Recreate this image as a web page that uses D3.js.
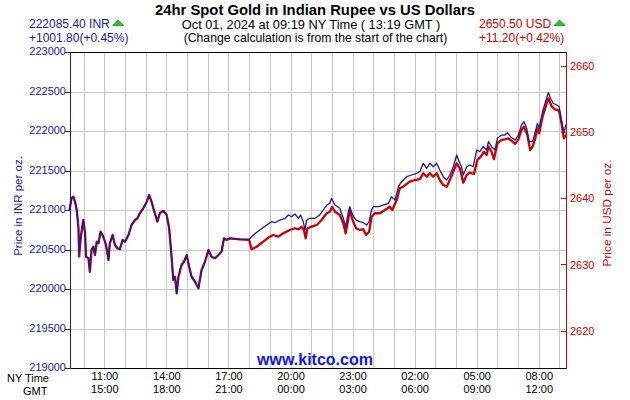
<!DOCTYPE html>
<html><head><meta charset="utf-8">
<script src="https://cdn.jsdelivr.net/npm/d3@7"></script>
<style>
body{margin:0;background:#fff;}
svg{display:block;font-family:"Liberation Sans",Arial,Helvetica,sans-serif;}
</style>
</head><body>
<svg id="chart" width="630" height="400"></svg>
<script>
// ---------- data ----------
const chartTitle = "24hr Spot Gold in Indian Rupee vs US Dollars";
const subTitle = "Oct 01, 2024 at 09:19 NY Time ( 13:19 GMT )";
const noteText = "(Change calculation is from the start of the chart)";
const inrHeader = ["222085.40 INR", "+1001.80(+0.45%)"];
const usdHeader = ["2650.50 USD", "+11.20(+0.42%)"];
const inrAxisTitle = "Price in INR per oz.";
const usdAxisTitle = "Price in USD per oz.";
const siteText = "www.kitco.com";
const rowLabels = ["NY Time", "GMT"];
const startNY = "2024-09-30 09:19";        // chart start, NY time
const spanHours = 24;
const inrTicks = [219000, 219500, 220000, 220500, 221000, 221500, 222000, 222500, 223000];
const usdTicks = [2620, 2630, 2640, 2650, 2660];
const usdRange = [2614.34, 2662.15];
const nyTickLabels = ["11:00", "14:00", "17:00", "20:00", "23:00", "02:00", "05:00", "08:00"];
const gmtTickLabels = ["15:00", "18:00", "21:00", "00:00", "03:00", "06:00", "09:00", "12:00"];

// minutes after chart start
const inrMinutes = [0,6,11,16,21,26,28,33,40,45,48,55,59,64,69,74,79,84,90,98,106,113,117,125,132,139,146,154,161,171,180,190,197,204,214,224,231,238,246,255,262,272,282,289,296,301,306,311,316,325,332,340,347,354,364,374,383,393,403,412,422,432,441,448,456,465,494,
  521,533,552,572,586,596,610,625,635,644,654,664,670,678,683,688,697,712,726,736,746,755,760,770,784,794,801,809,813,821,831,842,852,862,869,876,881,896,910,925,934,944,954,963,978,992,1007,1016,
  1026,1036,1045,1055,1065,1074,1084,1094,1103,1113,1123,1130,1137,1142,1152,1161,1171,1181,1190,1200,1210,1215,1224,1234,1241,1253,1263,1270,1279,1292,1302,1311,1318,1326,1333,1343,1350,1357,1362,1372,1382,1389,1395,1403,1413,1420,1427,1434,1440];
const inrValues = [221000,221148,221168,221105,221000,220772,220456,220662,220873,220709,220409,220389,220241,220494,220536,220430,220599,220579,220725,220662,220557,220367,220579,220684,220557,220515,220503,220620,220599,220684,220810,220873,220895,220958,221022,221105,221190,221105,220979,220852,220958,220991,220937,220768,220409,220114,220156,219946,220156,220304,220346,220430,220282,220156,220092,220009,220241,220346,220494,220409,220389,220430,220472,220642,220620,220642,220629,
  220629,220684,220747,220810,220852,220839,220873,220895,220937,220915,220949,220895,220937,220852,220747,220873,220895,220895,220937,221000,221063,221085,221148,221063,221022,220895,220789,220979,221042,220937,220873,220852,220839,220810,220852,221000,221042,221042,221063,221085,221168,221127,221295,221358,221422,221443,221465,221485,
  221591,221528,221591,221548,221591,221506,221422,221380,221443,221548,221696,221611,221548,221443,221548,221570,221548,221760,221738,221801,221760,221865,221801,221760,221908,221949,221949,221979,221928,221886,221949,222076,222118,222034,221865,221865,221971,222097,222034,222244,222392,222485,222414,222351,222329,222308,222139,221979,222085];

const usdMinutes = [0,6,11,16,21,26,28,33,40,45,48,55,59,64,69,74,79,84,90,98,106,113,117,125,132,139,146,154,161,171,180,190,197,204,214,224,231,238,246,255,262,272,282,289,296,301,306,311,316,325,332,340,347,354,364,374,383,393,403,412,422,432,441,448,456,465,494,
  521,528,543,562,581,591,606,620,639,654,664,673,680,685,690,702,717,731,746,755,762,770,784,794,801,809,813,821,831,842,852,860,869,876,886,900,915,929,936,949,958,968,987,1002,1016,
  1026,1036,1045,1055,1065,1074,1084,1094,1103,1113,1123,1132,1142,1152,1161,1173,1183,1193,1202,1210,1215,1224,1231,1241,1253,1263,1272,1282,1292,1302,1311,1318,1328,1336,1343,1350,1357,1362,1372,1384,1389,1399,1408,1420,1427,1434,1440];
const usdValues = [2638.25,2640.02,2640.26,2639.50,2638.25,2635.52,2631.2,2634.21,2636.73,2634.77,2631.18,2630.94,2628.9,2632.19,2632.69,2631.44,2633.45,2633.21,2634.96,2634.21,2632.95,2630.68,2633.21,2634.46,2632.95,2632.45,2632.30,2633.71,2633.45,2634.46,2635.98,2636.73,2636.99,2637.75,2638.50,2639.50,2640.51,2639.50,2637.99,2636.48,2637.75,2638.14,2637.49,2635.48,2631.18,2627.66,2628.15,2625.64,2628.15,2629.92,2630.42,2631.44,2629.67,2628.15,2627.40,2626.40,2629.17,2630.42,2632.19,2631.18,2630.94,2631.44,2631.94,2633.96,2633.71,2633.96,2633.81,
  2633.71,2632.30,2632.69,2633.45,2634.21,2634.46,2634.21,2634.72,2635.22,2635.48,2635.33,2635.72,2635.22,2633.96,2635.48,2635.72,2635.98,2636.73,2637.75,2637.99,2638.74,2637.99,2637.49,2636.23,2634.72,2636.99,2638.25,2636.73,2635.48,2635.22,2635.33,2634.46,2634.96,2637.23,2637.75,2637.75,2638.25,2638.74,2638.25,2639.76,2641.53,2641.77,2642.53,2642.78,2642.93,
  2643.80,2643.28,2643.80,2643.28,2643.80,2642.78,2642.03,2641.77,2642.78,2644.04,2645.31,2644.55,2642.38,2643.54,2643.89,2643.69,2645.81,2646.31,2647.07,2646.57,2647.82,2647.07,2645.92,2648.34,2648.84,2648.94,2649.09,2648.73,2648.23,2648.94,2650.35,2650.85,2649.59,2647.32,2647.82,2648.84,2650.61,2649.85,2652.36,2654.39,2655.14,2653.87,2653.48,2653.27,2651.36,2649.09,2649.6];

// ---------- setup ----------
const BLUE = "#1a1a9c", RED = "#c80000", GRID = "#c8c8c8";
const FONT = "Liberation Sans, Arial, sans-serif";
const plot = {left: 69.5, right: 566, top: 52, bottom: 368};
const svg = d3.select("#chart");
svg.append("rect").attr("width", 630).attr("height", 400).attr("fill", "#fff");

const parseNY = d3.utcParse("%Y-%m-%d %H:%M");
const t0 = parseNY(startNY);
const t1 = d3.utcHour.offset(t0, spanHours);
const x = d3.scaleUtc().domain([t0, t1]).range([plot.left, plot.right]);
const yInr = d3.scaleLinear().domain(d3.extent(inrTicks)).range([plot.bottom, plot.top]);
const yUsd = d3.scaleLinear().domain(usdRange).range([plot.bottom, plot.top]);

const toTime = m => d3.utcMinute.offset(t0, m);
const inrData = inrMinutes.map((m, i) => ({t: toTime(m), v: inrValues[i]}));
const usdData = usdMinutes.map((m, i) => ({t: toTime(m), v: usdValues[i]}));

// tick times from labels
const tickTimes = nyTickLabels.map(s => {
  const [h, mm] = s.split(":").map(Number);
  let d = new Date(Date.UTC(t0.getUTCFullYear(), t0.getUTCMonth(), t0.getUTCDate(), h, mm));
  if (d < t0) d = d3.utcDay.offset(d, 1);
  return d;
});

// ---------- grid ----------
const grid = svg.append("g").attr("shape-rendering", "crispEdges").attr("stroke", GRID).attr("stroke-width", 1);
grid.selectAll("line.h").data(inrTicks.slice(1, -1)).join("line").attr("class", "h")
  .attr("x1", plot.left).attr("x2", plot.right)
  .attr("y1", d => Math.round(yInr(d)) + 0.5).attr("y2", d => Math.round(yInr(d)) + 0.5);
grid.selectAll("line.v").data(x.ticks(d3.utcHour.every(1))).join("line").attr("class", "v")
  .attr("x1", d => Math.round(x(d)) + 0.5).attr("x2", d => Math.round(x(d)) + 0.5)
  .attr("y1", plot.top).attr("y2", plot.bottom);

// ---------- lines ----------
const lineInr = d3.line().x(d => x(d.t)).y(d => yInr(d.v));
const lineUsd = d3.line().x(d => x(d.t)).y(d => yUsd(d.v));
svg.append("path").datum(usdData).attr("d", lineUsd).attr("fill", "none")
  .attr("stroke", RED).attr("stroke-width", 2.3).attr("stroke-linejoin", "round");
svg.append("path").datum(inrData).attr("d", lineInr).attr("fill", "none")
  .attr("stroke", BLUE).attr("stroke-width", 1.3).attr("stroke-linejoin", "round");

// ---------- frame ----------
const frame = svg.append("g").attr("shape-rendering", "crispEdges");
frame.append("line").attr("x1", plot.left).attr("x2", plot.right).attr("y1", plot.top + 0.5).attr("y2", plot.top + 0.5).attr("stroke", "#000");
frame.append("line").attr("x1", plot.left).attr("x2", plot.right).attr("y1", plot.bottom + 0.5).attr("y2", plot.bottom + 0.5).attr("stroke", "#000");

// left axis
const axL = svg.append("g").attr("transform", `translate(70,0)`)
  .call(d3.axisLeft(yInr).tickValues(inrTicks).tickSize(5).tickSizeOuter(0).tickPadding(-1).tickFormat(d3.format("d")));
axL.select(".domain").attr("stroke", BLUE).attr("shape-rendering", "crispEdges");
axL.selectAll(".tick line").attr("stroke", BLUE).attr("shape-rendering", "crispEdges");
axL.selectAll(".tick text").attr("fill", BLUE).attr("font-size", 11).attr("font-family", FONT).attr("dy", "0.25em");

// right axis
const axR = svg.append("g").attr("transform", `translate(566,0)`)
  .call(d3.axisRight(yUsd).tickValues(usdTicks).tickSize(-5).tickSizeOuter(0).tickPadding(4).tickFormat(d3.format("d")));
axR.select(".domain").attr("stroke", RED).attr("shape-rendering", "crispEdges")
  .attr("d", `M0.5,${plot.top}V${plot.bottom + 1}`);
axR.selectAll(".tick line").attr("stroke", RED).attr("shape-rendering", "crispEdges");
axR.selectAll(".tick text").attr("fill", RED).attr("font-size", 11).attr("font-family", FONT);

// bottom time labels
const axB1 = svg.append("g").attr("transform", `translate(0,${plot.bottom})`)
  .call(d3.axisBottom(x).tickValues(tickTimes).tickSize(0).tickPadding(4).tickFormat((d, i) => nyTickLabels[i]));
const axB2 = svg.append("g").attr("transform", `translate(0,${plot.bottom + 13})`)
  .call(d3.axisBottom(x).tickValues(tickTimes).tickSize(0).tickPadding(4).tickFormat((d, i) => gmtTickLabels[i]));
[axB1, axB2].forEach(a => {
  a.select(".domain").remove();
  a.selectAll(".tick text").attr("fill", "#000").attr("font-size", 11).attr("font-family", FONT);
});
svg.append("text").attr("x", 7).attr("y", 382).attr("font-size", 11).text(rowLabels[0]);
svg.append("text").attr("x", 23).attr("y", 394.5).attr("font-size", 11).text(rowLabels[1]);

// axis titles
svg.append("text").attr("transform", "translate(22,206) rotate(-90)").attr("text-anchor", "middle")
  .attr("font-size", 11.5).attr("fill", BLUE).text(inrAxisTitle);
svg.append("text").attr("transform", "translate(611,213) rotate(-90)").attr("text-anchor", "middle")
  .attr("font-size", 11.8).attr("fill", RED).text(usdAxisTitle);

// titles
svg.append("text").attr("x", 315).attr("y", 15).attr("text-anchor", "middle")
  .attr("font-size", 14.8).attr("font-weight", "bold").attr("fill", "#000").text(chartTitle);
svg.append("text").attr("x", 311).attr("y", 28.5).attr("text-anchor", "middle")
  .attr("font-size", 12.8).attr("fill", "#000").text(subTitle);
svg.append("text").attr("x", 315.5).attr("y", 42).attr("text-anchor", "middle")
  .attr("font-size", 12.2).attr("fill", "#000").text(noteText);

// header values with up-triangles
function header(xPos, lines, color) {
  const a = svg.append("text").attr("x", xPos).attr("y", 28).attr("font-size", 12).attr("fill", color).text(lines[0]);
  svg.append("text").attr("x", xPos).attr("y", 42).attr("font-size", 12).attr("fill", color).text(lines[1]);
  const w = a.node().getComputedTextLength();
  const tx = xPos + w + 3;
  svg.append("path").attr("d", `M${tx},${25.5}L${tx + 11},${25.5}L${tx + 5.5},${20}Z`)
    .attr("fill", "#22cc22").attr("stroke", "#108a10").attr("stroke-width", 0.8);
}
header(29, inrHeader, BLUE);
header(479, usdHeader, RED);

// site text
svg.append("text").attr("x", 315).attr("y", 365).attr("text-anchor", "middle")
  .attr("font-size", 16).attr("font-weight", "bold").attr("fill", "#1414e6").text(siteText);
</script>
</body></html>
